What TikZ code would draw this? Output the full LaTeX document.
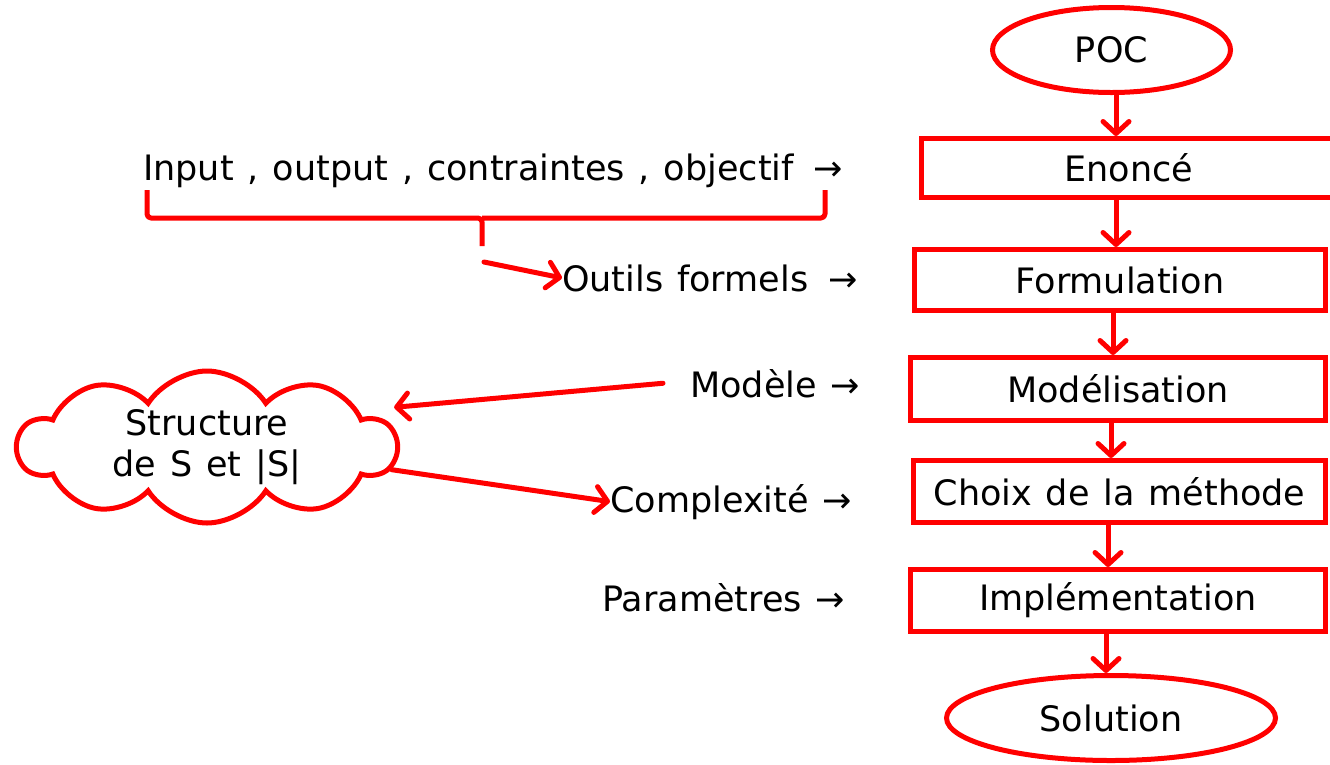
\documentclass[tikz,border=0pt]{standalone}
\usepackage{fontspec}
\setmainfont{DejaVu Sans}[WordSpace=1.25]
\usetikzlibrary{arrows.meta,shapes.geometric,shapes.symbols}
\begin{document}
\begin{tikzpicture}[x=1pt,y=-1pt,
  every node/.style={font=\fontsize{35}{41}\selectfont, text=black},
  stepbox/.style={draw=red, line width=5pt, rectangle, inner sep=0pt},
  terminal/.style={draw=red, line width=5pt, ellipse, inner sep=0pt},
  note/.style={anchor=base west, inner sep=0pt},
  flow/.style={draw=red, line width=5pt, line cap=round,
    -{Straight Barb[length=12pt,width=26pt,line cap=round,line join=round]}},
  redline/.style={draw=red, line width=5pt, line join=round}]
\useasboundingbox (0,0) rectangle (1330,764);

% main flow chart
\node[terminal, minimum width=238pt, minimum height=85pt] (poc) at (1111.5,50) {POC};
\node[stepbox, minimum width=414.5pt, minimum height=59pt] (enonce) at (1128.75,168) {Enoncé};
\node[stepbox, minimum width=411pt, minimum height=61pt] (formulation) at (1120,280) {Formulation};
\node[stepbox, minimum width=415pt, minimum height=63pt] (modelisation) at (1118,389) {Modélisation};
\node[stepbox, minimum width=412pt, minimum height=62pt] (choix) at (1119.5,491.5) {Choix de la méthode};
\node[stepbox, minimum width=415pt, minimum height=62pt] (impl) at (1118,600.5) {Implémentation};
\node[terminal, minimum width=329pt, minimum height=85pt] (solution) at (1111,718) {Solution};

\draw[flow] (1116,0 |- poc.south) -- (1116,0 |- enonce.north);
\draw[flow] (1116,0 |- enonce.south) -- (1116,0 |- formulation.north);
\draw[flow] (1113,0 |- formulation.south) -- (1113,0 |- modelisation.north);
\draw[flow] (1111,0 |- modelisation.south) -- (1111,0 |- choix.north);
\draw[flow] (1108,0 |- choix.south) -- (1108,0 |- impl.north);
\draw[flow] (1106,0 |- impl.south) -- (1106,0 |- solution.north);

% notes on the left of each step
\node[note] (input) at (143,180) {Input , output , contraintes , objectif \,→};
\node[note] (outils) at (562,291) {Outils formels \,→};
\node[note] (modele) at (690,397) {Modèle →};
\node[note] (complexite) at (610,512) {Complexité →};
\node[note] (parametres) at (602,611) {Paramètres →};

% brace under the first line
\draw[redline, rounded corners=4pt]
  (147,190) -- (147,218) -- (482,218) -- (482,246)
  (482,218) -- (825,218) -- (825,190);
\coordinate (bracetip) at (484,262);
\draw[flow] (bracetip) -- (outils.west);

% cloud
\node[draw=red, line width=5pt, cloud, cloud puffs=10, cloud puff arc=115,
  aspect=2.4, minimum width=378pt, minimum height=152pt, align=center,
  inner sep=0pt] (cloud) at (207,447) {Structure\\de S et |S|};

\draw[flow] ([xshift=-27pt]modele.west) -- ([yshift=20pt]cloud.6);
\draw[flow] (cloud.-7) -- (complexite.west);
\end{tikzpicture}
\end{document}
